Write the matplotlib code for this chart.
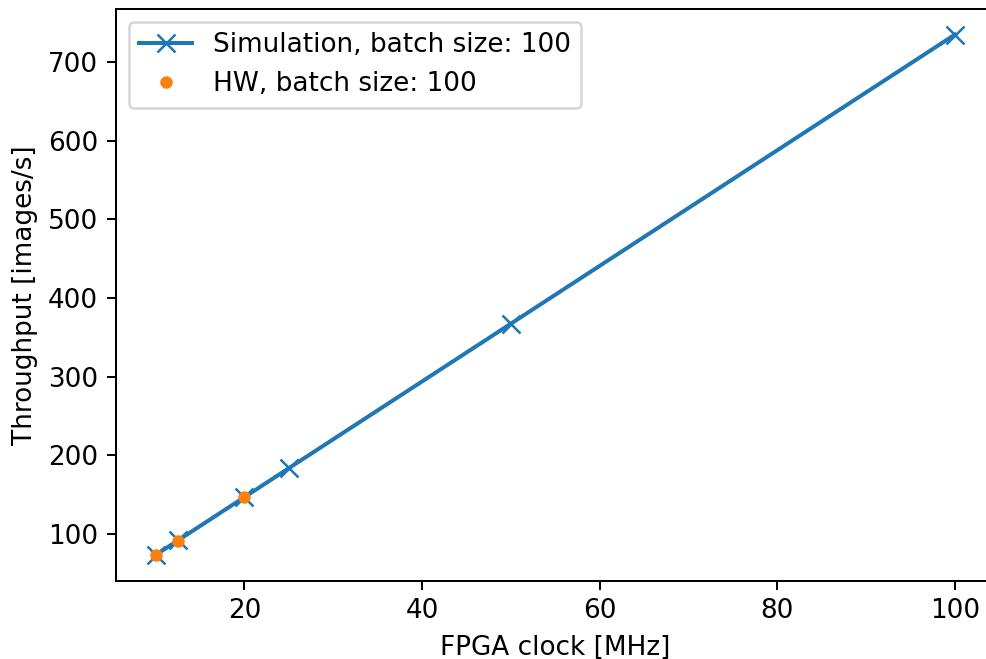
import matplotlib
matplotlib.use('Agg')
import matplotlib.pyplot as plt

# Simulated throughput vs FPGA clock
sim_clock = [10, 12.5, 20, 25, 50, 100]
sim_tput = [73.5, 91.9, 147.0, 183.8, 367.5, 735.0]

# Measured on hardware
hw_clock = [10, 12.5, 20]
hw_tput = [74.0, 91.5, 147.0]

plt.rcParams['font.size'] = 10.5

fig = plt.figure(figsize=(986/180, 659/180), dpi=180)
ax = fig.add_axes([0.1173, 0.1184, 1.009-0.1173, 0.987-0.1184])

ax.plot(sim_clock, sim_tput, marker='x', markersize=7, linewidth=1.6,
        label='Simulation, batch size: 100')
ax.plot(hw_clock, hw_tput, 'o', markersize=4, label='HW, batch size: 100')

ax.set_xlabel('FPGA clock [MHz]')
ax.set_ylabel('Throughput [images/s]')
ax.legend(loc='upper left')

fig.savefig('out.png', dpi=180)
